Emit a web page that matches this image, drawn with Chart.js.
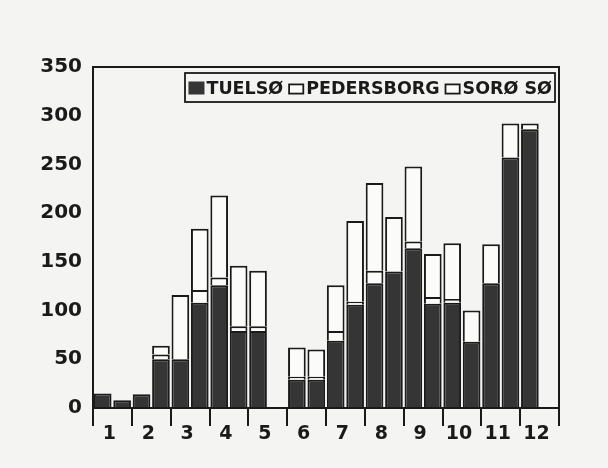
<!DOCTYPE html>
<html>
<head>
<meta charset="utf-8">
<script src="https://cdn.jsdelivr.net/npm/chart.js@4.4.1/dist/chart.umd.min.js"></script>
<style>
  html, body { margin: 0; padding: 0; background: #f4f4f2; }
  canvas { display: block; }
</style>
</head>
<body>
<canvas id="c" width="608" height="468"></canvas>
<script>
// Month categories
const months = ['1','2','3','4','5','6','7','8','9','10','11','12'];
const seriesNames = ['TUELSØ', 'PEDERSBORG', 'SORØ SØ'];
const yTicks = [0, 50, 100, 150, 200, 250, 300, 350];

// First bar of each month
const tuelsoA     = [15, 14, 50, 126, 79, 29, 69, 128, 164, 108, 128, 286];
const pedersborgA = [null, null, null, 8, 5, 3, 10, 13, 7, 4, null, null];
const soroA       = [null, null, 66, 84, 57, 30, 47, 90, 77, 57, 40, 6];

// Second bar of each month
const tuelsoB     = [8, 50, 108, 79, null, 29, 106, 140, 107, 68, 257, null];
const pedersborgB = [null, 5, 13, 5, null, 3, 3, null, 7, null, null, null];
const soroB       = [null, 9, 63, 62, null, 28, 83, 56, 44, 32, 35, null];

const DARK = '#353535';
const LINE = '#1a1a1a';
const BG = '#f4f4f2';
const WHITE = '#fbfbf9';
const TEXT = '#1a1a1a';

function ds(label, data, stack, fill) {
  return {
    label, data, stack,
    backgroundColor: fill,
    borderColor: LINE,
    borderWidth: 2,
    borderSkipped: 'start',
    categoryPercentage: 1.0,
    barPercentage: 0.91
  };
}

const bgPlugin = {
  id: 'bg',
  beforeDraw(chart) {
    const ctx = chart.ctx;
    ctx.save();
    ctx.fillStyle = BG;
    ctx.fillRect(0, 0, chart.width, chart.height);
    ctx.restore();
  }
};

const framePlugin = {
  id: 'frame',
  afterDraw(chart) {
    const a = chart.chartArea;
    const ctx = chart.ctx;
    ctx.save();
    ctx.strokeStyle = LINE;
    ctx.lineWidth = 2;
    ctx.strokeRect(a.left, a.top, a.right - a.left, a.bottom - a.top);

    // legend box inside the plot area (top right)
    const boxL = 185, boxT = 73, boxR = 555, boxB = 102;
    ctx.fillStyle = BG;
    ctx.fillRect(boxL, boxT, boxR - boxL, boxB - boxT);
    ctx.lineWidth = 1.8;
    ctx.strokeRect(boxL, boxT, boxR - boxL, boxB - boxT);

    ctx.font = 'bold 17.5px "DejaVu Sans"';
    ctx.textBaseline = 'middle';
    const midY = 88.5;
    const widths = seriesNames.map(s => ctx.measureText(s).width);
    const sw = 16, gapBox = 2, gapItem = 5;
    let total = 0;
    widths.forEach((w, i) => { total += sw + gapBox + w + (i < widths.length - 1 ? gapItem : 0); });
    let x = boxR - 3 - total;
    seriesNames.forEach((name, i) => {
      if (i === 0) {
        ctx.fillStyle = DARK;
        ctx.fillRect(x, midY - 7, sw, 13);
      } else {
        ctx.fillStyle = WHITE;
        ctx.fillRect(x, midY - 5, sw, 11);
        ctx.strokeStyle = LINE;
        ctx.lineWidth = 1.8;
        ctx.strokeRect(x + 0.9, midY - 4.1, sw - 1.8, 9.2);
      }
      x += sw + gapBox;
      ctx.fillStyle = TEXT;
      ctx.fillText(name, x, midY + 1);
      x += widths[i] + gapItem;
    });
    ctx.restore();
  }
};

new Chart(document.getElementById('c'), {
  type: 'bar',
  data: {
    labels: months,
    datasets: [
      ds(seriesNames[0], tuelsoA, 'a', DARK),
      ds(seriesNames[1], pedersborgA, 'a', WHITE),
      ds(seriesNames[2], soroA, 'a', WHITE),
      ds(seriesNames[0], tuelsoB, 'b', DARK),
      ds(seriesNames[1], pedersborgB, 'b', WHITE),
      ds(seriesNames[2], soroB, 'b', WHITE)
    ]
  },
  options: {
    responsive: false,
    animation: false,
    layout: { padding: { top: 67, right: 49, bottom: 0, left: 0 } },
    plugins: {
      legend: { display: false },
      tooltip: { enabled: false }
    },
    scales: {
      x: {
        stacked: true,
        offset: true,
        afterFit(scale) { scale.height = 60; },
        grid: {
          display: true,
          offset: true,
          drawOnChartArea: false,
          drawTicks: true,
          tickLength: 18,
          color: LINE,
          lineWidth: 2
        },
        border: { display: true, color: LINE, width: 2 },
        ticks: {
          font: { family: 'DejaVu Sans', size: 19, weight: 'bold' },
          color: TEXT,
          padding: -3,
          labelOffset: -3,
          maxRotation: 0,
          autoSkip: false
        }
      },
      y: {
        stacked: true,
        min: 0,
        max: 350,
        afterFit(scale) { scale.width = 93; },
        afterBuildTicks(scale) { scale.ticks = yTicks.map(v => ({ value: v })); },
        grid: { display: false, drawTicks: false },
        border: { display: true, color: LINE, width: 2 },
        ticks: {
          font: { family: 'DejaVu Sans', size: 20, weight: 'bold' },
          color: TEXT,
          padding: 11
        }
      }
    }
  },
  plugins: [bgPlugin, framePlugin]
});
</script>
</body>
</html>
